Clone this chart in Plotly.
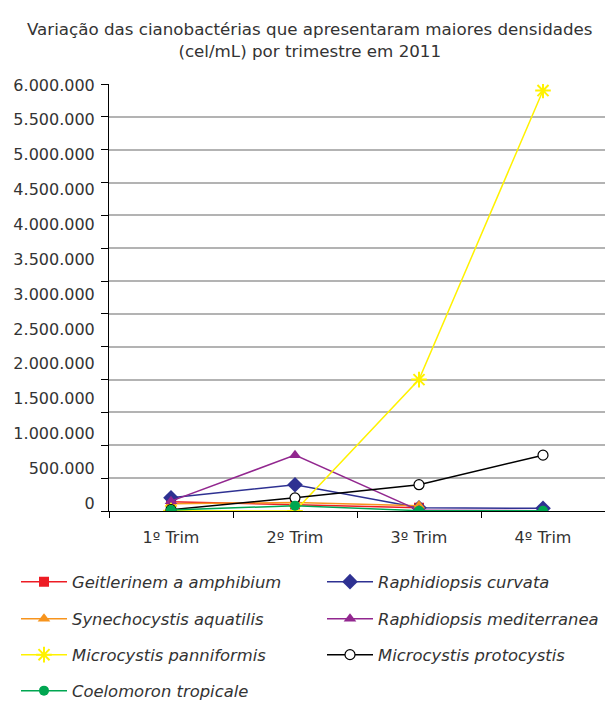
import numpy as np
import plotly.graph_objects as go

title_text = "Variação das cianobactérias que apresentaram maiores densidades<br>(cel/mL) por trimestre em 2011"
categories = ["1º Trim", "2º Trim", "3º Trim", "4º Trim"]

# series (cel/mL)
geitlerinema = [140000, 100000, 50000, None]
raph_curvata = [200000, 400000, 50000, 40000]
synechocystis = [110000, 130000, 80000, None]
raph_mediterranea = [150000, 850000, 10000, 5000]
mic_panniformis = [5000, 0, 2000000, 6400000]
mic_protocystis = [20000, 200000, 400000, 850000]
coelomoron = [15000, 80000, 5000, 3000]

ytick_text = ["0", "500.000", "1.000.000", "1.500.000", "2.000.000", "2.500.000",
              "3.000.000", "3.500.000", "4.000.000", "4.500.000", "5.000.000",
              "5.500.000", "6.000.000"]

# (name, values, colour, symbol, size)
series = [
    ("Geitlerinem a amphibium", geitlerinema, "#ed1c24", "square", 10),
    ("Raphidiopsis curvata", raph_curvata, "#2e3192", "diamond", 12),
    ("Synechocystis aquatilis", synechocystis, "#f7941d", "triangle-up", 11),
    ("Raphidiopsis mediterranea", raph_mediterranea, "#92278f", "triangle-up", 11),
    ("Microcystis panniformis", mic_panniformis, "#fff200", "asterisk-open", 13),
    ("Microcystis protocystis", mic_protocystis, "#000000", "circle", 10),
    ("Coelomoron tropicale", coelomoron, "#00a651", "circle", 10),
]

fig = go.Figure()
for i, (name, vals, color, sym, size) in enumerate(series):
    if sym == "asterisk-open":
        marker = dict(symbol=sym, size=size, color=color, line=dict(color=color, width=2))
    elif name == "Microcystis protocystis":
        marker = dict(symbol=sym, size=size, color="white", line=dict(color=color, width=1.2))
    else:
        marker = dict(symbol=sym, size=size, color=color, line=dict(width=0))
    fig.add_trace(go.Scatter(
        x=categories, y=vals, name=name, mode="lines+markers",
        line=dict(color=color, width=1.5), marker=marker,
        legend="legend" if i == 0 else f"legend{i + 1}",
        showlegend=True, connectgaps=False,
    ))

# tick labels in the reference sit slightly off the gridlines
ytick_vals = np.linspace(120000, 6485000, len(ytick_text))

legend_common = dict(orientation="h", xref="container", yref="container",
                     xanchor="left", yanchor="middle", itemwidth=46,
                     bgcolor="rgba(0,0,0,0)", borderwidth=0,
                     font=dict(family="DejaVu Sans", size=16.4, color="#333333", style="italic"))
col_x = [16 / 605, 322 / 605]
row_y = [1 - 582 / 706, 1 - 619 / 706, 1 - 655 / 706, 1 - 691 / 706]
legend_layout = {}
for i in range(len(series)):
    key = "legend" if i == 0 else f"legend{i + 1}"
    legend_layout[key] = dict(legend_common, x=col_x[i % 2], y=row_y[i // 2])

fig.update_layout(
    width=605, height=706,
    showlegend=True,
    margin=dict(l=109, r=0, t=84, b=195),
    paper_bgcolor="white", plot_bgcolor="white",
    font=dict(family="DejaVu Sans", color="#333333"),
    title=dict(text=title_text, x=0.512, xanchor="center", y=1 - 35 / 706, yanchor="top",
               font=dict(family="DejaVu Sans", size=16.7, color="#333333")),
    xaxis=dict(type="category", categoryorder="array", categoryarray=categories,
               range=[-0.5, 3.5], showgrid=False, showline=True, linecolor="black",
               linewidth=1, ticks="outside", tickson="boundaries", ticklen=6,
               tickcolor="black", tickfont=dict(size=16, color="#333333"),
               ticklabelstandoff=12, fixedrange=True),
    yaxis=dict(range=[0, 6500000], tickmode="array", tickvals=ytick_vals,
               ticktext=ytick_text, ticks="", showgrid=False, zeroline=False,
               showline=True, linecolor="black", linewidth=1,
               tickfont=dict(size=16, color="#333333"), ticklabelstandoff=10,
               minor=dict(tickmode="linear", tick0=0, dtick=500000, showgrid=True,
                          gridcolor="#b3b3b3", gridwidth=2, ticks="outside",
                          ticklen=7, tickcolor="black"),
               fixedrange=True),
    **legend_layout,
)

fig.write_html("out.html", config={"displayModeBar": False},
               post_script="document.body.style.margin='0px';")
